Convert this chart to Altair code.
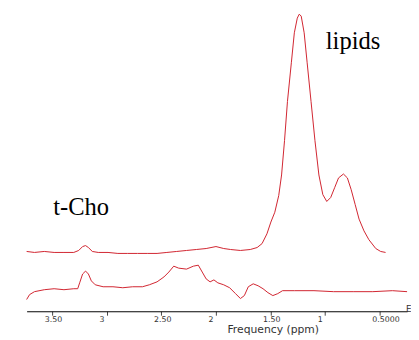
import altair as alt
import pandas as pd

# Upper spectrum (ppm, intensity a.u.)
upper_ppm = [3.734, 3.662, 3.572, 3.482, 3.392, 3.302, 3.257, 3.221, 3.194, 3.168, 3.132, 3.078,
             2.988, 2.898, 2.808, 2.718, 2.629, 2.539, 2.449, 2.359, 2.269, 2.179, 2.089, 1.999,
             1.928, 1.865, 1.775, 1.685, 1.622, 1.577, 1.532, 1.496, 1.460, 1.424, 1.398, 1.371,
             1.344, 1.308, 1.281, 1.254, 1.236, 1.218, 1.191, 1.164, 1.128, 1.092, 1.056, 1.020,
             0.984, 0.948, 0.912, 0.876, 0.831, 0.795, 0.760, 0.724, 0.688, 0.643, 0.598, 0.535,
             0.490, 0.445]
upper_int = [61, 60, 61, 60, 60, 60, 62, 66, 67, 65, 61, 60,
             60, 59, 59, 59, 59, 59, 60, 61, 62, 63, 64, 66,
             64, 63, 62, 63, 65, 69, 79, 91, 101, 118, 139, 174,
             214, 254, 284, 299, 303, 301, 284, 254, 214, 174, 139, 119,
             112, 116, 126, 136, 140, 136, 124, 109, 94, 82, 73, 64,
             61, 60]

# Lower spectrum
lower_ppm = [3.734, 3.707, 3.662, 3.572, 3.482, 3.392, 3.302, 3.266, 3.248, 3.221, 3.194, 3.168,
             3.141, 3.105, 3.033, 2.943, 2.853, 2.763, 2.673, 2.610, 2.539, 2.476, 2.431, 2.386,
             2.341, 2.269, 2.206, 2.161, 2.125, 2.089, 2.053, 2.018, 1.982, 1.928, 1.874, 1.820,
             1.775, 1.739, 1.703, 1.658, 1.613, 1.568, 1.523, 1.478, 1.433, 1.389, 1.281, 1.101,
             0.922, 0.742, 0.562, 0.382, 0.248]
lower_int = [12, 17, 20, 22, 23, 22, 23, 23, 29, 38, 41, 38,
             31, 27, 25, 25, 24, 25, 25, 27, 30, 35, 40, 46,
             44, 43, 46, 47, 40, 33, 30, 32, 29, 27, 24, 18,
             13, 16, 25, 28, 26, 23, 19, 16, 18, 21, 21, 21,
             20, 20, 20, 21, 20]

ann_text = ["lipids", "t-Cho"]
ann_ppm = [0.993, 3.49]
ann_int = [267, 98]

tick_values = [3.5, 3.0, 2.5, 2.0, 1.5, 1.0, 0.5]

rows = []
for i, (p, v) in enumerate(zip(upper_ppm, upper_int)):
    rows.append({"spectrum": "upper", "idx": i, "ppm": p, "intensity": v})
for i, (p, v) in enumerate(zip(lower_ppm, lower_int)):
    rows.append({"spectrum": "lower", "idx": i, "ppm": p, "intensity": v})
df = pd.DataFrame(rows)
ann = pd.DataFrame({"label": ann_text, "ppm": ann_ppm, "intensity": ann_int})
edge = pd.DataFrame({"label": ["E"], "ppm": [0.232], "intensity": [-1]})

xscale = alt.Scale(domain=[3.734, 0.248], nice=False, zero=False)
yscale = alt.Scale(domain=[0, 306], nice=False, zero=False)

xaxis = alt.Axis(
    values=tick_values,
    labelExpr="datum.value == 0.5 ? '0.5000' : (datum.value % 1 == 0 ? format(datum.value, 'd') : format(datum.value, '.2f'))",
    title="Frequency (ppm)",
    grid=False,
    domainColor="black",
    domainWidth=1,
    tickColor="#444",
    tickSize=4,
    labelFont="DejaVu Sans",
    labelFontSize=8,
    labelColor="#333",
    labelAlign="left",
    labelOffset=-8,
    labelPadding=0,
    labelBaseline="top",
    labelFlush=False,
    labelOverlap=False,
    titleFont="DejaVu Sans",
    titleFontSize=11,
    titleFontWeight="normal",
    titleColor="#333",
    titleX=251,
    titleY=22,
    titleAlign="center",
    titleBaseline="alphabetic",
)

lines = alt.Chart(df).mark_line(color="#d0232e", strokeWidth=1).encode(
    x=alt.X("ppm:Q", scale=xscale, axis=xaxis),
    y=alt.Y("intensity:Q", scale=yscale, axis=None),
    detail="spectrum:N",
    order="idx:Q",
)

labels = alt.Chart(ann).mark_text(
    font="Liberation Serif", fontSize=25, align="left", baseline="alphabetic", color="black"
).encode(
    x=alt.X("ppm:Q", scale=xscale),
    y=alt.Y("intensity:Q", scale=yscale, axis=None),
    text="label:N",
)

edge_label = alt.Chart(edge).mark_text(
    font="DejaVu Sans", fontSize=9, align="center", baseline="alphabetic", color="#333"
).encode(
    x=alt.X("ppm:Q", scale=xscale),
    y=alt.Y("intensity:Q", scale=yscale, axis=None),
    text="label:N",
)

chart = alt.layer(lines, labels, edge_label).properties(
    width=388,
    height=306,
    background="white",
    autosize=alt.AutoSizeParams(type="none"),
    padding={"left": 19, "top": 0, "right": 4, "bottom": 26},
).configure_view(stroke=None, strokeWidth=0)

chart.save("out.html", embed_options={"renderer": "svg", "actions": False})
